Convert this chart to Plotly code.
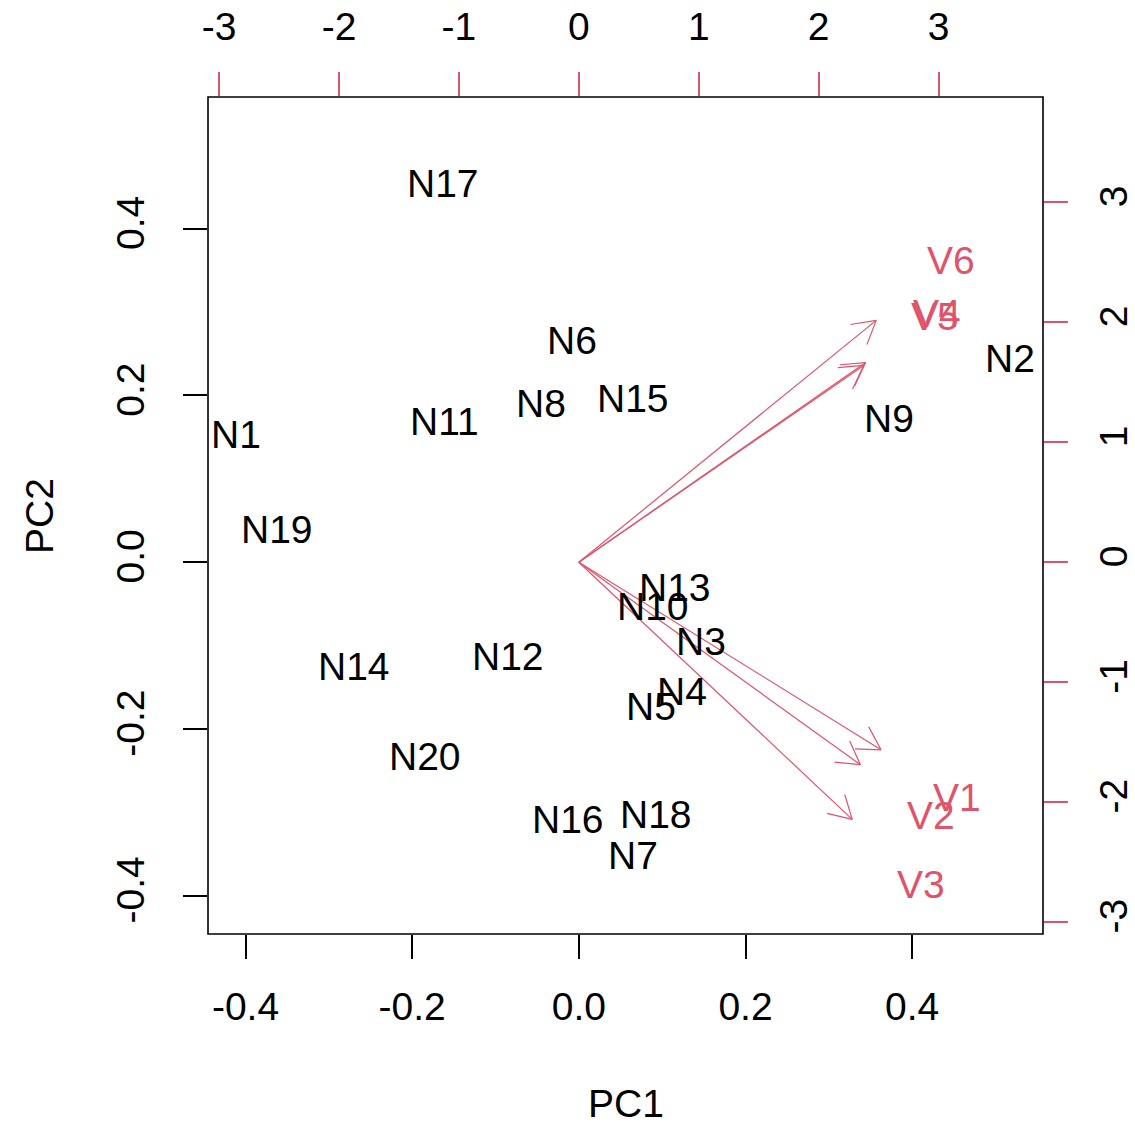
import math
import plotly.graph_objects as go

# ---- data ----
obs_labels = ["N1", "N2", "N3", "N4", "N5", "N6", "N7", "N8", "N9", "N10",
              "N11", "N12", "N13", "N14", "N15", "N16", "N17", "N18", "N19", "N20"]
pc1 = [-0.412, 0.517, 0.146, 0.124, 0.086, -0.008, 0.065, -0.046, 0.372, 0.089,
       -0.161, -0.085, 0.115, -0.270, 0.065, -0.013, -0.163, 0.092, -0.362, -0.185]
pc2 = [0.154, 0.245, -0.094, -0.155, -0.173, 0.266, -0.351, 0.191, 0.173, -0.052,
       0.169, -0.113, -0.030, -0.125, 0.197, -0.308, 0.455, -0.302, 0.040, -0.232]

var_labels = ["V1", "V2", "V3", "V4", "V5", "V6"]
load1 = [3.15, 2.935, 2.85, 2.99, 2.97, 3.10]
load2 = [-1.955, -2.11, -2.68, 2.08, 2.05, 2.52]

pc_ticks = [-0.4, -0.2, 0.0, 0.2, 0.4]
pc_tick_text = ["-0.4", "-0.2", "0.0", "0.2", "0.4"]
load_ticks = [-3, -2, -1, 0, 1, 2, 3]
load_tick_text = ["-3", "-2", "-1", "0", "1", "2", "3"]

x_title = "PC1"
y_title = "PC2"

# ---- style ----
RED = "#DF536B"
FONT = "Liberation Sans, Arial, sans-serif"
FS = 39
xr = [-0.445, 0.557]
yr = [-0.446, 0.558]
ratio = 6.95
arrow_scale = 0.8
head_len = 26 / 120.0
head_ang = math.radians(30)
label_shift = -0.5

fig = go.Figure()

# arrows (loadings), drawn on the secondary axes
ax, ay = [], []
for a, b in zip(load1, load2):
    tx, ty = a * arrow_scale, b * arrow_scale
    th = math.atan2(ty, tx)
    ax += [0, tx, None]
    ay += [0, ty, None]
    for s in (1, -1):
        ax += [tx, tx + head_len * math.cos(th + math.pi + s * head_ang), None]
        ay += [ty, ty + head_len * math.sin(th + math.pi + s * head_ang), None]
fig.add_trace(go.Scatter(x=ax, y=ay, mode="lines", xaxis="x2", yaxis="y2",
                         line=dict(color=RED, width=1.2), hoverinfo="skip",
                         showlegend=False))
# invisible trace so the primary axes are active
fig.add_trace(go.Scatter(x=pc1, y=pc2, mode="markers", marker=dict(opacity=0),
                         hoverinfo="skip", showlegend=False))

annotations = []
for a, b, t in zip(load1, load2, var_labels):
    annotations.append(dict(x=a, y=b, xref="x2", yref="y2", text=t,
                            showarrow=False, xanchor="center", yanchor="middle",
                            yshift=label_shift,
                            font=dict(color=RED, size=FS, family=FONT)))
for a, b, t in zip(pc1, pc2, obs_labels):
    annotations.append(dict(x=a, y=b, xref="x", yref="y", text=t,
                            showarrow=False, xanchor="center", yanchor="middle",
                            yshift=label_shift,
                            font=dict(color="black", size=FS, family=FONT)))
annotations += [
    dict(text=x_title, xref="paper", yref="paper", x=0.5, y=-0.2031,
         showarrow=False, xanchor="center", yanchor="middle",
         font=dict(family=FONT, size=FS, color="black")),
    dict(text=y_title, xref="paper", yref="paper", x=-0.2019, y=0.5,
         showarrow=False, xanchor="center", yanchor="middle", textangle=-90,
         font=dict(family=FONT, size=FS, color="black")),
]

tickfont = dict(family=FONT, size=FS, color="black")
common = dict(showgrid=False, zeroline=False, showline=False, ticks="outside",
              ticklen=24, tickwidth=1.5, tickfont=tickfont, automargin=False)

fig.update_layout(
    width=1135, height=1127,
    margin=dict(l=208, r=92, t=97, b=193, autoexpand=False),
    paper_bgcolor="white", plot_bgcolor="white",
    font=dict(family=FONT, size=FS, color="black"),
    xaxis=dict(range=xr, tickvals=pc_ticks, ticktext=pc_tick_text,
               tickcolor="black", ticklabelstandoff=14, **common),
    yaxis=dict(range=yr, tickvals=pc_ticks, ticktext=pc_tick_text,
               tickcolor="black", tickangle=-90, ticklabelstandoff=23, **common),
    xaxis2=dict(range=[xr[0] * ratio, xr[1] * ratio], tickvals=load_ticks,
                ticktext=load_tick_text, overlaying="x", side="top", anchor="y",
                tickcolor=RED, ticklabelstandoff=16, **common),
    yaxis2=dict(range=[yr[0] * ratio, yr[1] * ratio], tickvals=load_ticks,
                ticktext=load_tick_text, overlaying="y", side="right", anchor="x",
                tickcolor=RED, tickangle=-90, ticklabelstandoff=12, **common),
    shapes=[dict(type="rect", xref="paper", yref="paper", x0=0, x1=1, y0=0, y1=1,
                 line=dict(color="black", width=1.6))],
    annotations=annotations,
)

fig.write_html("out.html", config={"displayModeBar": False},
               post_script="document.body.style.margin='0px';document.body.style.padding='0px';")
